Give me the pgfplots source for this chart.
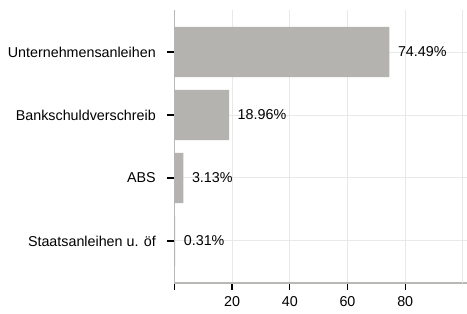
\documentclass[border=0pt]{standalone}
\usepackage{pgfplots}
\pgfplotsset{compat=1.18}
\usepackage{fontspec}
\setmainfont{Liberation Sans}
\definecolor{barc}{HTML}{B4B3AF}
\definecolor{gridc}{HTML}{E8E8E8}
\definecolor{axc}{HTML}{B8B8B4}
\begin{document}
\begin{tikzpicture}
\begin{axis}[
  at={(0,0)}, anchor=south west,
  scale only axis, width=292.7pt, height=273pt,
  xmin=0, xmax=101.4, ymin=-0.667, ymax=3.667, y dir=reverse,
  axis x line*=bottom, axis y line*=left,
  axis line style={axc, line width=1.4pt},
  xbar, bar width=0.8,
  ytick={0,1,2,3},
  yticklabels={Unternehmensanleihen,Bankschuldverschreib,ABS,Staatsanleihen u. öf},
  xtick={0,20,40,60,80}, xticklabels={,20,40,60,80},
  extra x ticks={100}, extra x tick labels={}, extra x tick style={major tick length=0pt},
  grid=major, major grid style={gridc, line width=1pt},
  tick style={black, line width=1.2pt}, tick align=outside, major tick length=7pt,
  tick label style={font=\fontsize{14.3}{16}\selectfont},
  yticklabel style={xshift=-8pt},
  xticklabel style={yshift=-3pt},
  /pgf/number format/assume math mode=true,
  point meta=explicit symbolic,
  nodes near coords={\pgfplotspointmeta},
  nodes near coords style={anchor=west, inner sep=0pt, xshift=8.5pt, font=\fontsize{14.3}{16}\selectfont, text=black},
]
\addplot[fill=barc, draw=none] coordinates {
  (74.49,0) [74.49\%]
  (18.96,1) [18.96\%]
  (3.13,2) [3.13\%]
  (0.31,3) [0.31\%]
};
\end{axis}
\pgfresetboundingbox
\path[use as bounding box] (-174.3pt,-31pt) rectangle (292.7pt,283pt);
\end{tikzpicture}
\end{document}
